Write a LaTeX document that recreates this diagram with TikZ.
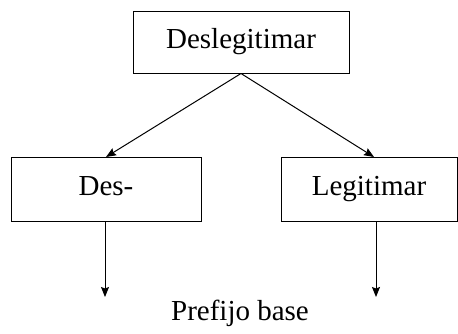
\documentclass[tikz,border=0pt]{standalone}
\usepackage{fontspec}
\setmainfont{Liberation Serif}
\usetikzlibrary{arrows.meta}
\begin{document}
\begin{tikzpicture}[x=1pt,y=1pt,
  box/.style={draw, line width=1pt, inner sep=0pt, font=\fontsize{29}{35}\selectfont,
    text height=19pt, text depth=6pt},
  link/.style={line width=1pt, -{Stealth[length=10pt,width=8pt,inset=1.5pt]}},
  lbl/.style={font=\fontsize{29}{35}\selectfont, inner sep=0pt, anchor=base}]
\useasboundingbox (0,0) rectangle (458,333);
% word and its two parts
\node[box, minimum width=216pt, minimum height=61pt] (word) at (241,290.5) {Deslegitimar};
\node[box, minimum width=190pt, minimum height=64pt] (pre) at (106,144) {Des-};
\node[box, minimum width=176pt, minimum height=64pt] (base) at (369,144) {Legitimar};
\coordinate (preTip) at (106,176);
\coordinate (baseTip) at (374,176);
\coordinate (preEnd) at (105,36);
\coordinate (baseEnd) at (376,36);
% splitting arrows
\draw[link] (word.south) -- (preTip);
\draw[link] (word.south) -- (baseTip);
% downward arrows
\draw[link] (pre.south -| preEnd) -- (preEnd);
\draw[link] (base.south -| baseEnd) -- (baseEnd);
\node[lbl] (cap) at (240,13) {Prefijo base};
\end{tikzpicture}
\end{document}
